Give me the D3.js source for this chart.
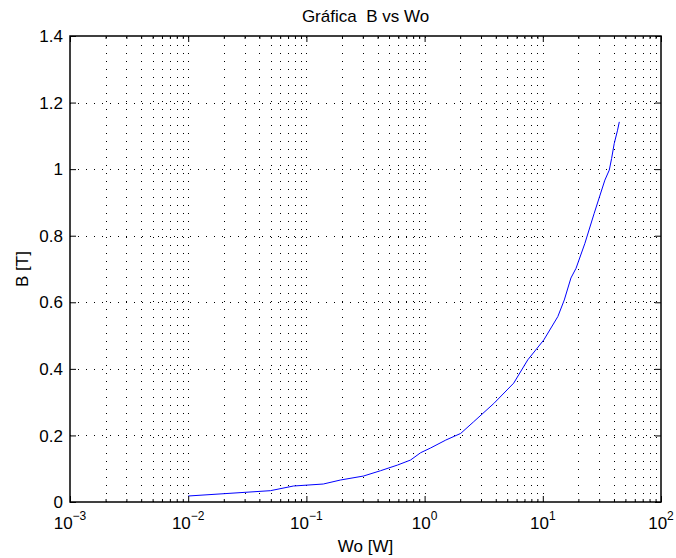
<!DOCTYPE html>
<html>
<head>
<meta charset="utf-8">
<script src="https://cdn.jsdelivr.net/npm/d3@7"></script>
<style>
  body { margin: 0; background: #fff; }
  text { font-family: "Liberation Sans", Arial, sans-serif; fill: #000; white-space: pre; }
</style>
</head>
<body>
<svg id="chart"></svg>
<script>
const width = 676;
const height = 558;

// Wo [W] values
const woValues = [0.01, 0.0496, 0.0776, 0.139, 0.194, 0.304, 0.424, 0.59, 0.76, 0.925, 1.12, 1.51,
  2.02, 2.6, 3.85, 5.67, 7.46, 10.2, 13.4, 15.2, 17.3, 19.1, 22.7, 27.2, 33.5, 36.5, 38.2, 40.2, 42.9, 44.4];
// B [T] values
const bValues = [0.018, 0.034, 0.048, 0.054, 0.066, 0.078, 0.094, 0.111, 0.126, 0.148, 0.162, 0.186,
  0.206, 0.241, 0.296, 0.357, 0.427, 0.487, 0.557, 0.607, 0.673, 0.702, 0.777, 0.867, 0.967, 0.997, 1.032, 1.077, 1.117, 1.142];

const xExponents = [-3, -2, -1, 0, 1, 2];
const yTicks = [0, 0.2, 0.4, 0.6, 0.8, 1, 1.2, 1.4];

const titleText = "Gráfica  B vs Wo";
const xLabel = "Wo [W]";
const yLabel = "B [T]";

const margin = { left: 70, right: 15, top: 36, bottom: 56 };
const plotW = width - margin.left - margin.right;
const plotH = height - margin.top - margin.bottom;

const svg = d3.select("#chart").attr("width", width).attr("height", height);
const g = svg.append("g").attr("transform", `translate(${margin.left},${margin.top})`);

const x = d3.scaleLog().domain([1e-3, 1e2]).range([0, plotW]);
const y = d3.scaleLinear().domain([0, 1.4]).range([plotH, 0]);

// all decade + minor positions
const minorX = [];
xExponents.slice(0, -1).forEach(e => {
  for (let k = 2; k <= 9; k++) minorX.push(k * Math.pow(10, e));
});
const majorX = xExponents.map(e => Math.pow(10, e));

// grid
const grid = g.append("g").attr("class", "grid")
  .attr("stroke", "#000").attr("stroke-width", 1).attr("stroke-dasharray", "1,7");

grid.selectAll("line.vx")
  .data(minorX.concat(majorX.slice(1, -1)))
  .enter().append("line")
  .attr("x1", d => Math.round(x(d)) + 0.5).attr("x2", d => Math.round(x(d)) + 0.5)
  .attr("y1", plotH).attr("y2", 0);

grid.selectAll("line.hy")
  .data(yTicks.slice(1, -1))
  .enter().append("line")
  .attr("y1", d => Math.round(y(d)) + 0.5).attr("y2", d => Math.round(y(d)) + 0.5)
  .attr("x1", 0).attr("x2", plotW);

// curve
const line = d3.line()
  .x((d, i) => x(woValues[i]))
  .y(d => y(d));

g.append("path")
  .datum(bValues)
  .attr("fill", "none")
  .attr("stroke", "#0000ff")
  .attr("stroke-width", 1)
  .attr("d", line);

// axes (ticks drawn inward, MATLAB style)
g.append("g").attr("transform", `translate(0,${plotH})`)
  .call(d3.axisBottom(x).tickValues(majorX).tickSize(-6).tickFormat(""));
g.append("g")
  .call(d3.axisTop(x).tickValues(majorX).tickSize(-6).tickFormat(""));
g.append("g").attr("transform", `translate(0,${plotH})`)
  .call(d3.axisBottom(x).tickValues(minorX).tickSize(-3).tickFormat(""));
g.append("g")
  .call(d3.axisTop(x).tickValues(minorX).tickSize(-3).tickFormat(""));

g.append("g").call(d3.axisLeft(y).tickValues(yTicks).tickSize(-6).tickFormat(""));
g.append("g").attr("transform", `translate(${plotW},0)`)
  .call(d3.axisRight(y).tickValues(yTicks).tickSize(-6).tickFormat(""));

g.selectAll(".domain").remove();
g.selectAll(".tick line").attr("stroke", "#000");

// box
g.append("rect")
  .attr("x", 0).attr("y", 0).attr("width", plotW).attr("height", plotH)
  .attr("fill", "none").attr("stroke", "#000").attr("stroke-width", 1.5);

// y tick labels
g.selectAll("text.ylab")
  .data(yTicks)
  .enter().append("text")
  .attr("class", "ylab")
  .attr("x", -7)
  .attr("y", d => y(d))
  .attr("dy", "0.36em")
  .attr("text-anchor", "end")
  .attr("font-size", 17)
  .text(d => d3.format("")(d));

// x tick labels: 10^e
const xl = g.selectAll("text.xlab")
  .data(xExponents)
  .enter().append("text")
  .attr("class", "xlab")
  .attr("x", d => x(Math.pow(10, d)))
  .attr("y", plotH + 27)
  .attr("text-anchor", "middle")
  .attr("font-size", 17);
xl.append("tspan").text("10");
xl.append("tspan")
  .attr("font-size", 12)
  .attr("dy", -9)
  .text(d => d < 0 ? "\u2212" + Math.abs(d) : d);

// title and axis labels
svg.append("text")
  .attr("x", margin.left + plotW / 2)
  .attr("y", 22)
  .attr("text-anchor", "middle")
  .attr("font-size", 17)
  .text(titleText);

svg.append("text")
  .attr("x", margin.left + plotW / 2)
  .attr("y", 552)
  .attr("text-anchor", "middle")
  .attr("font-size", 17)
  .text(xLabel);

svg.append("text")
  .attr("transform", `translate(28,${margin.top + plotH / 2}) rotate(-90)`)
  .attr("text-anchor", "middle")
  .attr("font-size", 17)
  .text(yLabel);
</script>
</body>
</html>
